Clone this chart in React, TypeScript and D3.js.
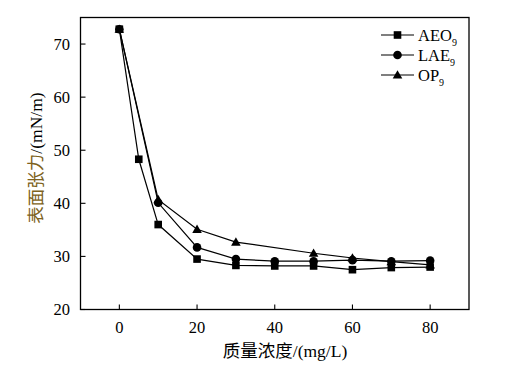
import React from "react";
import * as d3 from "d3";

const xTicks = [0, 20, 40, 60, 80];
const yTicks = [20, 30, 40, 50, 60, 70];

const aeoX = [0, 5, 10, 20, 30, 40, 50, 60, 70, 80];
const aeoY = [72.8, 48.3, 36.0, 29.5, 28.3, 28.2, 28.2, 27.5, 27.9, 28.0];

const laeX = [0, 10, 20, 30, 40, 50, 60, 70, 80];
const laeY = [72.8, 40.1, 31.7, 29.5, 29.1, 29.1, 29.3, 29.1, 29.2];

const opX = [0, 10, 20, 30, 50, 60, 70, 80];
const opY = [72.8, 40.7, 35.1, 32.7, 30.6, 29.7, 29.0, 28.4];

const seriesNames = ["AEO", "LAE", "OP"];

const W = 512, H = 371;
const L = 80.5, R = 469, T = 17.5, B = 309.5;

export default function App() {
  const x = d3.scaleLinear().domain([-10, 90]).range([L, R]);
  const y = d3.scaleLinear().domain([20, 75]).range([B, T]);
  const line = d3.line<[number, number]>().x(d => x(d[0])).y(d => y(d[1]));

  const series = [
    { name: seriesNames[0], xs: aeoX, ys: aeoY, shape: "square" },
    { name: seriesNames[1], xs: laeX, ys: laeY, shape: "circle" },
    { name: seriesNames[2], xs: opX, ys: opY, shape: "triangle" },
  ];

  const marker = (shape: string, cx: number, cy: number, key: string) => {
    if (shape === "square") return <rect key={key} x={cx - 3.8} y={cy - 3.8} width={7.6} height={7.6} fill="#000" />;
    if (shape === "circle") return <circle key={key} cx={cx} cy={cy} r={4.3} fill="#000" />;
    const s = 4.8;
    return <path key={key} d={`M${cx},${cy - s}L${cx + s * 1.0},${cy + s * 0.75}L${cx - s * 1.0},${cy + s * 0.75}Z`} fill="#000" />;
  };

  const serif = '"Liberation Serif", "Times New Roman", serif';
  const cjk = '"Liberation Serif", "Noto Sans CJK SC", serif';

  return (
    <svg width={W} height={H} style={{ position: "absolute", left: 0, top: 0, background: "#fff" }}>
      <rect x={0} y={0} width={W} height={H} fill="#fff" />
      {series.map((s, i) => (
        <g key={i}>
          <path d={line(s.xs.map((v, j) => [v, s.ys[j]] as [number, number])) || ""} fill="none" stroke="#000" strokeWidth={1.2} />
          {s.xs.map((v, j) => marker(s.shape, x(v), y(s.ys[j]), `${i}-${j}`))}
        </g>
      ))}
      <rect x={L} y={T} width={R - L} height={B - T} fill="none" stroke="#000" strokeWidth={1.3} />
      {xTicks.map(t => (
        <g key={"x" + t}>
          <line x1={x(t)} x2={x(t)} y1={B} y2={B - 5} stroke="#000" strokeWidth={1.1} />
          <text x={x(t)} y={332.5} textAnchor="middle" fontFamily={serif} fontSize={16.5} fill="#000">{t}</text>
        </g>
      ))}
      {yTicks.map(t => (
        <g key={"y" + t}>
          <line x1={L} x2={L + 5} y1={y(t)} y2={y(t)} stroke="#000" strokeWidth={1.1} />
          <text x={70} y={y(t) + 5.5} textAnchor="end" fontFamily={serif} fontSize={16.5} fill="#000">{t}</text>
        </g>
      ))}
      <text x={285} y={357} textAnchor="middle" fontFamily={cjk} fontSize={17.5} fill="#000">
        质量浓度/(mg/L)
      </text>
      <text transform="translate(42,158) rotate(-90)" textAnchor="middle" fontFamily={cjk} fontSize={17.5} fill="#000">
        <tspan fill="#7d6220">表面张力</tspan>
        <tspan>/(mN/m)</tspan>
      </text>
      {series.map((s, i) => {
        const ly = 35 + i * 20;
        return (
          <g key={"lg" + i}>
            <line x1={381} x2={414} y1={ly} y2={ly} stroke="#000" strokeWidth={1.2} />
            {marker(s.shape, 397.5, ly, "lm" + i)}
            <text x={418} y={ly + 5.5} fontFamily={serif} fontSize={16.5} fill="#000">
              {s.name}
              <tspan fontSize={10} dy={5}>9</tspan>
            </text>
          </g>
        );
      })}
    </svg>
  );
}
